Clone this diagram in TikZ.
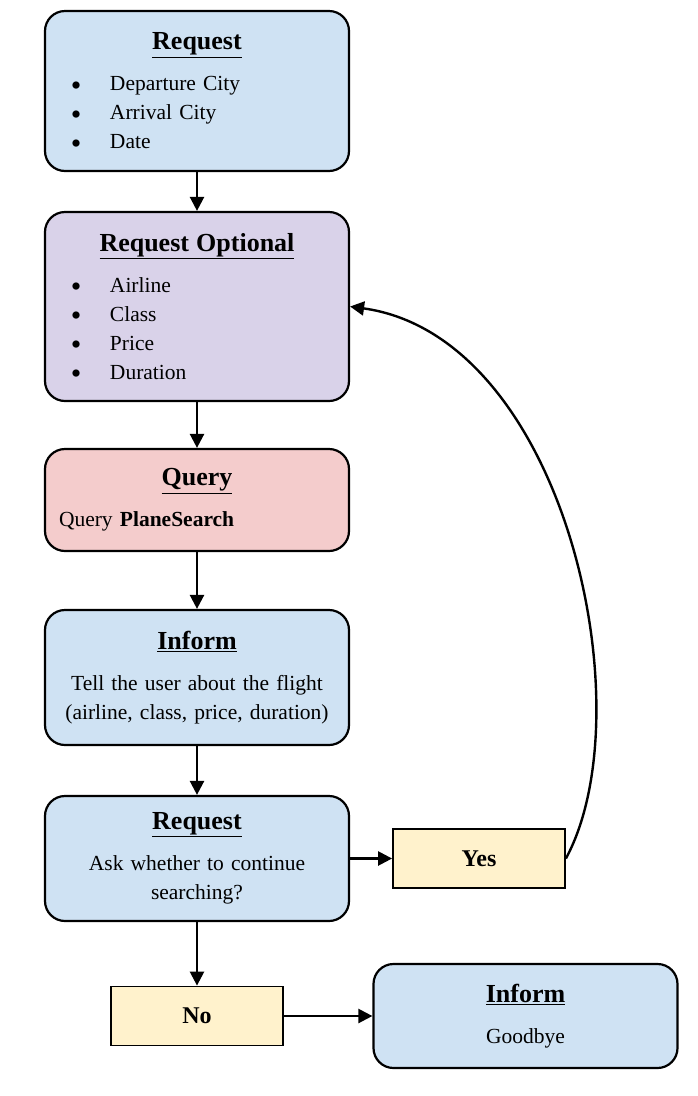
\documentclass[tikz,border=0pt]{standalone}
\usepackage{fontspec}
\setmainfont{Liberation Serif}
\usetikzlibrary{positioning}
\usetikzlibrary{arrows.meta}

\definecolor{infoblue}{HTML}{CFE2F3}
\definecolor{optpurple}{HTML}{D9D2E9}
\definecolor{querypink}{HTML}{F4CCCC}
\definecolor{answeryellow}{HTML}{FFF2CC}

\newcommand{\acttitle}[1]{\textbf{\fontsize{26}{29}\selectfont\underline{#1}}}
\newcommand{\actitem}[1]{\makebox[51pt][l]{\hspace*{12pt}\raisebox{-4.5pt}[0pt][0pt]{\scalebox{1.4}{\textbullet}}}#1}

\tikzset{
  act/.style={draw, line width=2.2pt, rounded corners=20pt, text width=276pt,
    inner xsep=14pt, inner ysep=6pt, font=\fontsize{21.5}{29}\selectfont},
  answer/.style={draw, line width=1.8pt, fill=answeryellow, minimum width=172pt,
    minimum height=59pt, font=\bfseries\fontsize{24}{28}\selectfont},
  flow/.style={-{Triangle[length=14pt,width=14pt]}, line width=2.4pt}
}

\begin{document}
\begin{tikzpicture}[on grid]
  \useasboundingbox (0,0) rectangle (698pt,-1096pt);

  \node[act, fill=infoblue, minimum height=160pt, align=left] (request) at (197pt,-91pt)
    {\makebox[\hsize]{\acttitle{Request}}\\[12pt]
     \actitem{Departure City}\\
     \actitem{Arrival City}\\
     \actitem{Date}};
  \node[act, fill=optpurple, minimum height=189pt, align=left] (optional) [below=215.5pt of request]
    {\makebox[\hsize]{\acttitle{Request Optional}}\\[12pt]
     \actitem{Airline}\\
     \actitem{Class}\\
     \actitem{Price}\\
     \actitem{Duration}};
  \node[act, fill=querypink, minimum height=102pt, align=left] (query) [below=193.5pt of optional]
    {\makebox[\hsize]{\acttitle{Query}}\\[12pt]
     Query \textbf{PlaneSearch}};
  \node[act, fill=infoblue, minimum height=135pt, align=center] (inform) [below=177.5pt of query]
    {\acttitle{Inform}\\[12pt]
     Tell the user about the flight\\
     (airline, class, price, duration)};
  \node[act, fill=infoblue, minimum height=125pt, align=center] (ask) [below=181pt of inform]
    {\acttitle{Request}\\[12pt]
     Ask whether to continue\\
     searching?};
  \node[answer] (yes) [right=282pt of ask] {Yes};
  \node[answer] (no)  [below=157.5pt of ask] {No};
  \node[act, fill=infoblue, minimum height=104pt, align=center] (bye) [right=328.5pt of no]
    {\acttitle{Inform}\\[12pt]
     Goodbye};

  \path[flow] (request) edge (optional)
              (optional) edge (query)
              (query)    edge (inform)
              (inform)   edge (ask)
              (ask)      edge (no)
              (ask)      edge (yes)
              (no)       edge (bye);
  \draw[flow] (yes.east) .. controls +(80pt,148pt) and +(215pt,-30pt) .. (optional.east);
\end{tikzpicture}
\end{document}
